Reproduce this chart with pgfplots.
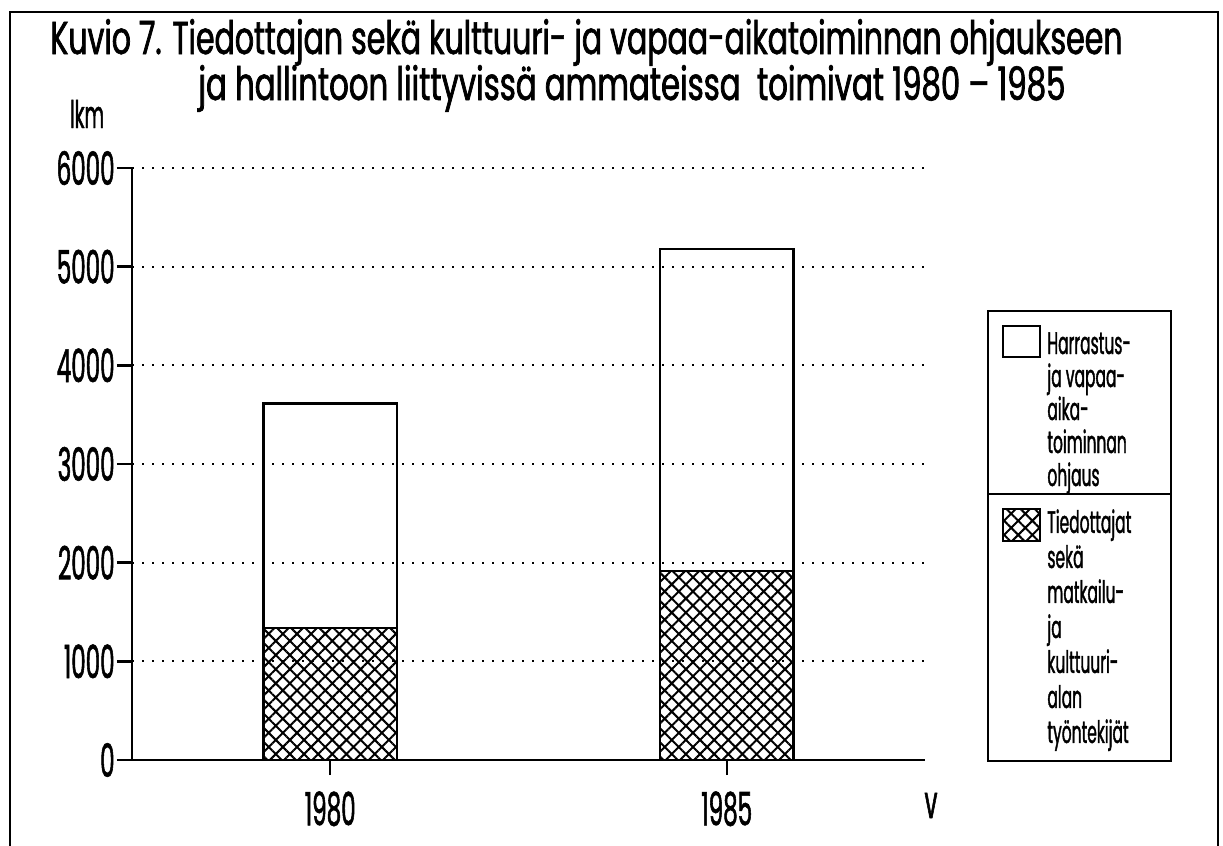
\documentclass[border=0pt]{standalone}
\usepackage{graphicx}
\usepackage{fontspec}
\setmainfont{Poppins}[FakeStretch=0.5, FakeBold=1.2]
\usepackage{pgfplots}
\pgfplotsset{compat=1.18}
\usetikzlibrary{patterns.meta}
\begin{document}
\begin{tikzpicture}
\path[use as bounding box] (0,0) rectangle (611.5pt,-423pt);
% frame
\draw[line width=1pt] (5pt,-423pt) -- (5pt,-6pt) -- (609pt,-6pt) -- (609pt,-423pt);
% title
\node[anchor=base west, inner sep=0pt] at (25pt,-27pt)
  {\fontsize{23}{26}\selectfont\resizebox{536pt}{\height}{Kuvio 7. Tiedottajan sekä kulttuuri- ja vapaa-aikatoiminnan ohjaukseen}};
\node[anchor=base west, inner sep=0pt] at (99pt,-50pt)
  {\fontsize{23}{26}\selectfont\resizebox{433.5pt}{\height}{ja hallintoon liittyvissä ammateissa\ \ toimivat 1980 -- 1985}};
\begin{axis}[
  at={(66pt,-380pt)}, anchor=south west,
  scale only axis, width=396.5pt, height=296pt,
  xmin=-0.5, xmax=1.5, ymin=0, ymax=6000,
  axis x line*=bottom, axis y line*=left,
  axis line style={-, line width=1.2pt},
  ybar stacked, bar width=66.75pt,
  xtick={0,1}, xticklabels={1980,1985},
  ytick={0,1000,2000,3000,4000,5000,6000},
  tick align=outside, major tick length=7.5pt,
  tick style={line width=1.2pt, black},
  /pgf/number format/assume math mode=true,
  /pgf/number format/1000 sep={},
  tick label style={font=\fontsize{23}{24}\selectfont},
  yticklabel style={inner sep=1pt},
  xticklabel style={inner sep=0pt, yshift=-8pt},
  ymajorgrids,
  grid style={line width=0.9pt, dash pattern=on 0.9pt off 4.1pt, black},
  xlabel={v}, ylabel={lkm},
  every axis x label/.style={at={(rel axis cs:1,0)}, anchor=base, xshift=3pt, yshift=-29pt, font=\fontsize{23}{24}\selectfont},
  every axis y label/.style={at={(rel axis cs:0,1)}, anchor=base west, xshift=-34.5pt, yshift=20pt, font=\fontsize{19}{20}\selectfont},
]
\addplot[draw=black, line width=1.2pt, pattern={Hatch[angle=45,distance=5pt,line width=1pt]}]
  coordinates {(0,1340) (1,1915)};
\addplot[draw=black, line width=1.2pt, fill=none]
  coordinates {(0,2275) (1,3265)};
\end{axis}
% legend
\draw[line width=1.2pt] (494pt,-155.5pt) rectangle (585.5pt,-380.5pt);
\draw[line width=1.2pt] (494pt,-247pt) -- (585.5pt,-247pt);
\draw[line width=1pt] (501.5pt,-163pt) rectangle (520pt,-178.5pt);
\draw[line width=1pt, pattern={Hatch[angle=45,distance=5pt,line width=1pt]}] (501.5pt,-254.5pt) rectangle (520pt,-270.5pt);
\node[anchor=north west, align=left, inner sep=0pt, font=\fontsize{15.5}{16.5}\selectfont] at (523.5pt,-166pt)
  {Harrastus-\\ja vapaa-\\aika-\\toiminnan\\ohjaus};
\node[anchor=north west, align=left, inner sep=0pt, font=\fontsize{15.5}{17.5}\selectfont] at (523.5pt,-254.5pt)
  {Tiedottajat\\sekä\\matkailu-\\ja\\kulttuuri-\\alan\\työntekijät};
\end{tikzpicture}
\end{document}
